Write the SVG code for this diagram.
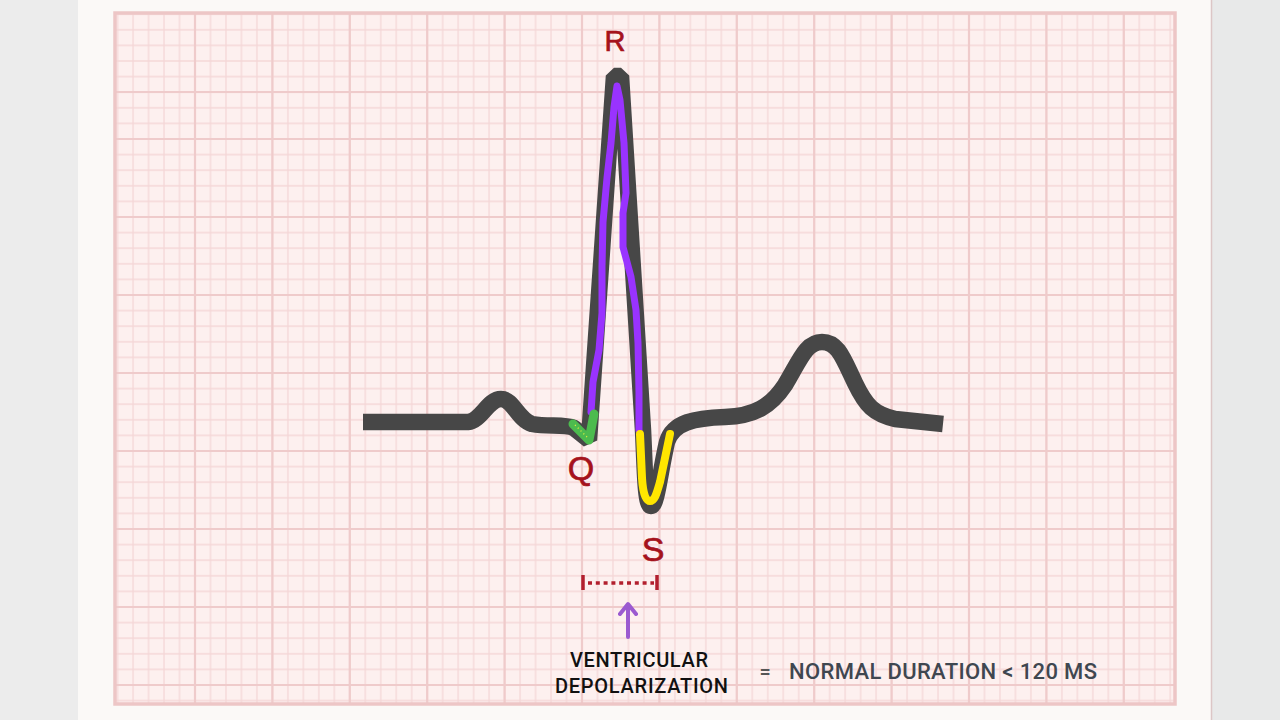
<svg xmlns="http://www.w3.org/2000/svg" width="1280" height="720" viewBox="0 0 1280 720">
  <style>
    .lbl { font-family: "Liberation Sans", Arial, sans-serif; fill: #a5121c; stroke: #a5121c; stroke-width: 0.7; text-anchor: middle; }
    .cap { font-family: Roboto, "Liberation Sans", sans-serif; font-weight: 500; }
    .trace { fill: none; stroke: #474747; stroke-width: 16.5; stroke-linejoin: bevel; stroke-linecap: butt; }
    .hl { fill: none; stroke-linecap: round; stroke-linejoin: round; }
    .pointer { stroke: #9b5ad0; stroke-width: 4; fill: none; stroke-linecap: round; stroke-linejoin: round; }
  </style>
  <defs>
    <pattern id="minor" x="195" y="139" width="15.48" height="15.6" patternUnits="userSpaceOnUse">
      <path d="M0,0V15.6M15.48,0V15.6M0,0H15.48M0,15.6H15.48" stroke="#f5d7d7" stroke-width="1.3" fill="none"/>
    </pattern>
    <marker id="ah" viewBox="0 0 20 20" refX="10" refY="10" markerWidth="20" markerHeight="20" orient="auto" markerUnits="userSpaceOnUse">
      <path d="M2,2 L12,10 L2,18" fill="none" stroke="#9b5ad0" stroke-width="4" stroke-linecap="round" stroke-linejoin="round"/>
    </marker>
  </defs>

  <!-- page background -->
  <rect x="0" y="0" width="1280" height="720" fill="#fbf9f7"/>
  <rect x="0" y="0" width="78" height="720" fill="#ececec"/>
  <rect x="1211" y="0" width="69" height="720" fill="#e8e9e9"/>
  <line x1="1211.5" y1="0" x2="1211.5" y2="720" stroke="#dcc6c6" stroke-width="1.5"/>

  <!-- ECG grid paper -->
  <g id="grid">
    <rect x="115" y="13" width="1060" height="691" fill="#fdf0ef"/>
    <rect x="115" y="13" width="1060" height="691" fill="url(#minor)"/>
    <path d="M195,13V704M272.4,13V704M349.8,13V704M427.2,13V704M504.6,13V704M582,13V704M659.4,13V704M736.8,13V704M814.2,13V704M891.6,13V704M969,13V704M1046.4,13V704M1123.8,13V704
             M115,92H1175M115,139H1175M115,217H1175M115,295H1175M115,373H1175M115,451H1175M115,529H1175M115,607H1175M115,685H1175"
          stroke="#efcbcb" stroke-width="2.2" fill="none"/>
    <rect x="115" y="13" width="1060" height="691" fill="none" stroke="#edc6c6" stroke-width="3.5"/>
  </g>

  <!-- ECG trace -->
  <g id="trace">
    <path class="trace" d="M363,422 L468,422 C481,421 488,399 501,399 C513,399 518,420 532,424 C548,427 564,424 574,428 L589,440 L614,76 L621,76 L643,430 C645,470 645,506 651,506 C657,506 660,472 667,442 C673,422 695,418 725,417 C755,416 771,406 785,385 C800,360 806,342 822,342 C838,342 843,358 855,383 C866,406 874,414 895,419 L943,424"/>
  </g>

  <!-- highlighted segments -->
  <g id="r-wave">
    <path class="hl" stroke="#9933ff" stroke-width="7" d="M591,412 L593,382 L599,350 L602,313 L602,267 L603,222 L607,178 L611,143 L614,107 L617,86 L620,100 L624,143 L626,193 L623,213 L623,247 L631,277 L636,310 L638,343 L639,393 L639,430"/>
  </g>
  <g id="q-wave">
    <path class="hl" stroke="#4cbb4e" stroke-width="9" d="M573,424 L589,440 L594,414"/>
    <path fill="none" stroke="#e8f040" stroke-width="1.3" stroke-dasharray="1 3" d="M575,425 L587,437"/>
  </g>
  <g id="s-wave">
    <path class="hl" stroke="#ffe600" stroke-width="8" d="M640,434 L642,478 C643,495 646,501 650,501 C655,501 657,492 660,482 L670,434"/>
  </g>

  <!-- peak labels -->
  <g id="label-r"><text class="lbl" x="615" y="51" font-size="29">R</text></g>
  <g id="label-q"><text class="lbl" x="581" y="480" font-size="34">Q</text></g>
  <g id="label-s"><text class="lbl" x="653" y="561" font-size="34">S</text></g>

  <!-- QRS interval bracket -->
  <g id="qrs-bracket" stroke="#b21f2e" fill="none">
    <line x1="583" y1="575" x2="583" y2="590" stroke-width="3.5"/>
    <line x1="657" y1="575" x2="657" y2="590" stroke-width="3.5"/>
    <line x1="588" y1="583" x2="654" y2="583" stroke-width="3.5" stroke-dasharray="4 3.8"/>
  </g>

  <!-- pointer -->
  <g id="connectors">
    <line class="pointer" x1="628" y1="637" x2="628" y2="606" marker-end="url(#ah)"/>
  </g>

  <!-- caption -->
  <g id="caption">
    <text class="cap" x="639" y="667" font-size="20" fill="#111" text-anchor="middle" textLength="138" lengthAdjust="spacing">VENTRICULAR</text>
    <text class="cap" x="641.5" y="693" font-size="20" fill="#111" text-anchor="middle" textLength="173" lengthAdjust="spacing">DEPOLARIZATION</text>
    <text class="cap" x="765" y="679" font-size="20" fill="#555" text-anchor="middle">=</text>
    <text class="cap" x="789" y="679" font-size="22" fill="#3f4750" textLength="308" lengthAdjust="spacing">NORMAL DURATION &lt; 120 MS</text>
  </g>
</svg>
